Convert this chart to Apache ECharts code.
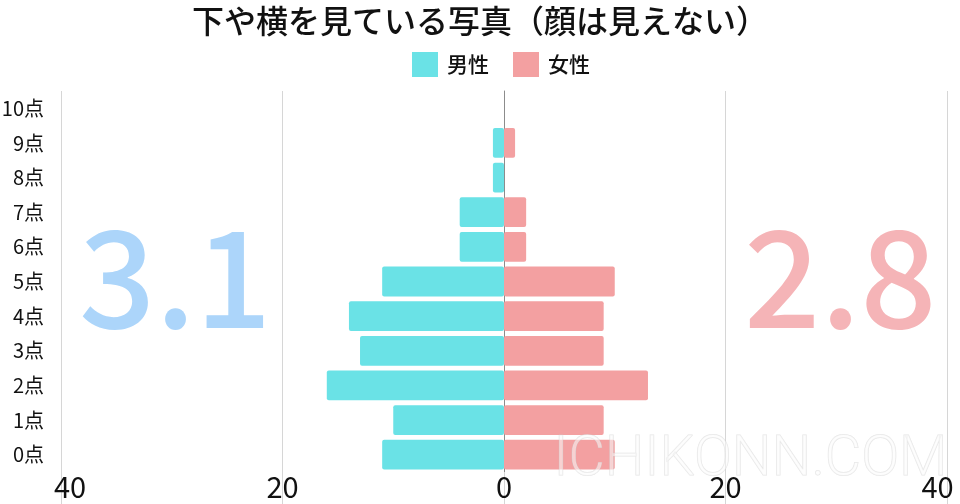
<!DOCTYPE html>
<html>
<head>
<meta charset="utf-8">
<script src="https://cdn.jsdelivr.net/npm/echarts@6/dist/echarts.min.js"></script>
<style>
html,body{margin:0;padding:0;background:#fff;}
#chart{width:960px;height:504px;}
</style>
</head>
<body>
<div id="chart"></div>
<script>
var title = '下や横を見ている写真（顔は見えない）';
var categories = ['0点','1点','2点','3点','4点','5点','6点','7点','8点','9点','10点'];
var maleValues = [11, 10, 16, 13, 14, 11, 4, 4, 1, 1, 0];
var femaleValues = [10, 9, 13, 9, 9, 10, 2, 2, 0, 1, 0];
var maleAverage = '3.1';
var femaleAverage = '2.8';
var xTicks = [-40, -20, 0, 20, 40];

var FONT = '"Noto Sans CJK JP", "Noto Sans", sans-serif';
var chart = echarts.init(document.getElementById('chart'), null, {renderer: 'canvas'});
chart.setOption({
  animation: false,
  backgroundColor: '#ffffff',
  textStyle: {fontFamily: FONT},
  title: {
    text: title,
    left: 'center',
    top: 0,
    textStyle: {fontFamily: FONT, fontSize: 32, fontWeight: 500, color: '#111'}
  },
  legend: {
    top: 47,
    left: 407,
    itemWidth: 26,
    itemHeight: 25,
    itemGap: 24,
    icon: 'rect',
    textStyle: {fontFamily: FONT, fontSize: 21, fontWeight: 500, color: '#111', padding: [0, 0, 0, 4]},
    data: ['男性', '女性']
  },
  grid: {left: 61, right: 13, top: 91, bottom: 32, containLabel: false, outerBoundsMode: 'none'},
  xAxis: {
    type: 'value',
    min: xTicks[0],
    max: xTicks[xTicks.length - 1],
    interval: 20,
    axisLine: {show: false},
    axisTick: {show: true, length: 32, lineStyle: {color: '#d6d6d6', width: 1}},
    splitLine: {show: true, lineStyle: {color: '#d6d6d6', width: 1}},
    axisLabel: {
      fontFamily: FONT, fontSize: 29, color: '#111', margin: 0,
      formatter: function (v) {
        var s = String(Math.abs(v));
        if (v === xTicks[0]) return '{l|' + s + '}';
        if (v === xTicks[xTicks.length - 1]) return '{r|' + s + '}';
        return s;
      },
      rich: {
        l: {fontFamily: FONT, fontSize: 29, color: '#111', padding: [0, 0, 0, 18]},
        r: {fontFamily: FONT, fontSize: 29, color: '#111', padding: [0, 19, 0, 0]}
      }
    }
  },
  yAxis: {
    type: 'category',
    data: categories,
    axisLine: {show: true, onZero: true, lineStyle: {color: '#8c8c8c', width: 1}},
    axisTick: {show: false},
    axisLabel: {
      fontFamily: FONT, fontSize: 20, color: '#111', margin: 17
    }
  },
  graphic: [
    {
      type: 'text', left: 79, top: 210, z: 0, silent: true,
      style: {text: maleAverage, fill: '#acd5fa', font: '500 134px "Noto Sans CJK JP", sans-serif'}
    },
    {
      type: 'text', left: 744, top: 210, z: 0, silent: true,
      style: {text: femaleAverage, fill: '#f5b4b7', font: '500 134px "Noto Sans CJK JP", sans-serif'}
    },
    {
      type: 'text', left: 553, top: 432, z: 100, silent: true,
      style: {
        text: 'ICHIKONN.COM', fill: 'rgba(252,252,252,0.55)',
        font: '300 56px Roboto, "Liberation Sans", sans-serif',
        stroke: 'rgba(205,205,205,0.5)', lineWidth: 1,
        shadowColor: 'rgba(0,0,0,0.12)', shadowBlur: 6
      }
    }
  ],
  series: [
    {
      name: '男性',
      type: 'bar',
      data: maleValues.map(function (v) { return -v; }),
      barWidth: '86%',
      barGap: '-100%',
      itemStyle: {color: '#6ae2e6', borderRadius: 2},
      z: 3
    },
    {
      name: '女性',
      type: 'bar',
      data: femaleValues,
      barWidth: '86%',
      barGap: '-100%',
      itemStyle: {color: '#f3a0a1', borderRadius: 2},
      z: 3
    }
  ]
});
</script>
</body>
</html>
